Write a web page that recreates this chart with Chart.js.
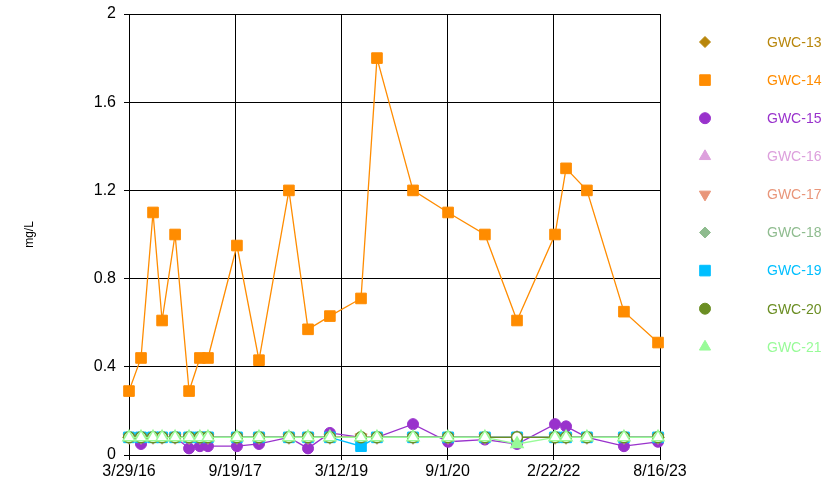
<!DOCTYPE html>
<html>
<head>
<meta charset="utf-8">
<script src="https://cdn.jsdelivr.net/npm/chart.js@4.4.0/dist/chart.umd.min.js"></script>
<style>
    html, body { margin: 0; padding: 0; background: #fff; }
    #wrap { width: 839px; height: 489px; }
</style>
</head>
<body>
<div id="wrap"><canvas id="chart" width="839" height="489"></canvas></div>
<script>
// sampling events (shared by all wells)
var sampleDates = [
    '2016-03-29', '2016-05-29', '2016-07-29', '2016-09-13', '2016-11-18', '2017-01-28',
    '2017-03-24', '2017-05-04', '2017-09-28', '2018-01-18', '2018-06-19', '2018-09-24',
    '2019-01-13', '2019-06-20', '2019-09-09', '2020-03-10', '2020-09-04', '2021-03-10',
    '2021-08-20', '2022-03-01', '2022-04-26', '2022-08-10', '2023-02-14', '2023-08-06'
];

var wellNames = ['GWC-13', 'GWC-14', 'GWC-15', 'GWC-16', 'GWC-17', 'GWC-18', 'GWC-19', 'GWC-20', 'GWC-21'];
var wellColors = ['#B8860B', '#FF8C00', '#9932CC', '#DDA0DD', '#E9967A', '#8FBC8F', '#00BFFF', '#6B8E23', '#98FB98'];

// results in mg/L, 0.08 = reporting limit (non-detect)
var gwc13 = [0.08, 0.08, 0.08, 0.08, 0.08, 0.08, 0.08, 0.08, 0.08, 0.08, 0.08, 0.08, 0.08, 0.08, 0.08, 0.08, 0.08, 0.08, 0.08, 0.08, 0.08, 0.08, 0.08, 0.08];
var gwc14 = [0.29, 0.44, 1.1, 0.61, 1.0, 0.29, 0.44, 0.44, 0.95, 0.43, 1.2, 0.57, 0.63, 0.71, 1.8, 1.2, 1.1, 1.0, 0.61, 1.0, 1.3, 1.2, 0.65, 0.51];
var gwc15 = [0.08, 0.05, 0.08, 0.08, 0.08, 0.03, 0.04, 0.04, 0.04, 0.05, 0.08, 0.03, 0.10, 0.08, 0.08, 0.14, 0.06, 0.07, 0.05, 0.14, 0.13, 0.08, 0.04, 0.06];
var gwc16 = [0.08, 0.08, 0.08, 0.08, 0.08, 0.08, 0.08, 0.08, 0.08, 0.08, 0.08, 0.08, 0.08, 0.08, 0.08, 0.08, 0.08, 0.08, 0.08, 0.08, 0.08, 0.08, 0.08, 0.08];
var gwc17 = [0.08, 0.08, 0.08, 0.08, 0.08, 0.08, 0.08, 0.08, 0.08, 0.08, 0.08, 0.08, 0.08, 0.08, 0.08, 0.08, 0.08, 0.08, 0.08, 0.08, 0.08, 0.08, 0.08, 0.08];
var gwc18 = [0.08, 0.08, 0.08, 0.08, 0.08, 0.08, 0.08, 0.08, 0.08, 0.08, 0.08, 0.08, 0.08, 0.08, 0.08, 0.08, 0.08, 0.08, 0.08, 0.08, 0.08, 0.08, 0.08, 0.08];
var gwc19 = [0.08, 0.08, 0.08, 0.08, 0.08, 0.08, 0.08, 0.08, 0.08, 0.08, 0.08, 0.08, 0.08, 0.04, 0.08, 0.08, 0.08, 0.08, 0.08, 0.08, 0.08, 0.08, 0.08, 0.08];
var gwc20 = [0.08, 0.08, 0.08, 0.08, 0.08, 0.08, 0.08, 0.08, 0.08, 0.08, 0.08, 0.08, 0.08, 0.08, 0.08, 0.08, 0.08, 0.08, 0.08, 0.08, 0.08, 0.08, 0.08, 0.08];
var gwc21 = [0.08, 0.08, 0.08, 0.08, 0.08, 0.08, 0.08, 0.08, 0.08, 0.08, 0.08, 0.08, 0.08, 0.08, 0.08, 0.08, 0.08, 0.08, 0.05, 0.08, 0.08, 0.08, 0.08, 0.08];
var wellValues = [gwc13, gwc14, gwc15, gwc16, gwc17, gwc18, gwc19, gwc20, gwc21];

var reportingLimit = 0.08;
var hollowWells = ['GWC-20', 'GWC-21'];

var axisStart = '2016-03-29';
var axisEnd = '2023-08-16';
var xTickLabels = ['3/29/16', '9/19/17', '3/12/19', '9/1/20', '2/22/22', '8/16/23'];
var yTickValues = [0, 0.4, 0.8, 1.2, 1.6, 2];
var yTickLabels = ['0', '0.4', '0.8', '1.2', '1.6', '2'];

// marker per well
var markerStyles = ['rectRot', 'rect', 'circle', 'triangle', 'triangle', 'rectRot', 'rect', 'circle', 'triangle'];
var markerRotation = [0, 0, 0, 0, 180, 0, 0, 0, 0];
var markerRadius = { rectRot: 6, rect: 7.5, circle: 5.5, triangle: 7 };

var FONT = '"Liberation Sans", Arial, sans-serif';

function toMs(s) {
    var p = s.split('-');
    return Date.UTC(+p[0], +p[1] - 1, +p[2]);
}

var xMin = toMs(axisStart);
var xMax = toMs(axisEnd);
var xTickValues = xTickLabels.map(function (l, i) {
    return xMin + (xMax - xMin) * i / (xTickLabels.length - 1);
});

var datasets = wellNames.map(function (name, i) {
    var color = wellColors[i];
    var vals = wellValues[i];
    var hollow = hollowWells.indexOf(name) >= 0;
    return {
        label: name,
        data: vals.map(function (v, k) { return { x: toMs(sampleDates[k]), y: v }; }),
        borderColor: color,
        backgroundColor: color,
        borderWidth: 1.3,
        pointStyle: markerStyles[i],
        rotation: markerRotation[i],
        pointRadius: markerRadius[markerStyles[i]],
        pointBorderWidth: hollow ? 1.5 : 1,
        pointBorderColor: color,
        pointBackgroundColor: vals.map(function (v) {
            return (hollow && v === reportingLimit) ? '#ffffff' : color;
        }),
        tension: 0,
        clip: false,
        order: wellNames.length - 1 - i
    };
});

// legend drawn down the right side, text in series colour
var sideLegend = {
    id: 'sideLegend',
    afterDraw: function (chart) {
        var ctx = chart.ctx;
        ctx.save();
        ctx.font = '14px ' + FONT;
        ctx.textBaseline = 'middle';
        ctx.textAlign = 'left';
        wellNames.forEach(function (name, i) {
            var y = 42 + i * 38.1;
            var st = markerStyles[i];
            ctx.fillStyle = wellColors[i];
            ctx.strokeStyle = wellColors[i];
            ctx.lineWidth = 1;
            Chart.helpers.drawPoint(ctx, {
                pointStyle: st,
                rotation: markerRotation[i],
                radius: st === 'rect' ? 7.5 : (st === 'circle' ? 5.5 : (st === 'triangle' ? 6.5 : 5.5)),
                borderWidth: 1
            }, 705, y);
            ctx.fillText(name, 767, y + 1);
        });
        ctx.restore();
    }
};

new Chart(document.getElementById('chart'), {
    type: 'line',
    data: { datasets: datasets },
    options: {
        responsive: false,
        animation: false,
        layout: { padding: { top: 14, right: 179, bottom: 0, left: 0 } },
        plugins: {
            legend: { display: false },
            tooltip: { enabled: false }
        },
        scales: {
            x: {
                type: 'linear',
                min: xMin,
                max: xMax,
                afterBuildTicks: function (scale) {
                    scale.ticks = xTickValues.map(function (v) { return { value: v }; });
                },
                afterFit: function (scale) {
                    scale.height = 34;
                    scale.paddingLeft = 0;
                    scale.paddingRight = 0;
                },
                ticks: {
                    autoSkip: false,
                    maxRotation: 0,
                    padding: 2,
                    color: '#000',
                    font: { family: FONT, size: 16 },
                    callback: function (v, idx) { return xTickLabels[idx]; }
                },
                grid: { color: '#000', lineWidth: 1, tickLength: 5, drawTicks: true },
                border: { color: '#000', width: 1 }
            },
            y: {
                min: 0,
                max: 2,
                afterBuildTicks: function (scale) {
                    scale.ticks = yTickValues.map(function (v) { return { value: v }; });
                },
                afterFit: function (scale) {
                    scale.width = 129;
                    scale.paddingTop = 0;
                    scale.paddingBottom = 0;
                },
                ticks: {
                    padding: 8,
                    color: '#000',
                    font: { family: FONT, size: 16 },
                    callback: function (v, idx) { return yTickLabels[idx]; }
                },
                grid: { color: '#000', lineWidth: 1, tickLength: 5, drawTicks: true },
                border: { color: '#000', width: 1 },
                title: {
                    display: true,
                    text: 'mg/L',
                    color: '#000',
                    font: { family: FONT, size: 12 },
                    padding: { top: 22, bottom: 0 }
                }
            }
        }
    },
    plugins: [sideLegend]
});
</script>
</body>
</html>
